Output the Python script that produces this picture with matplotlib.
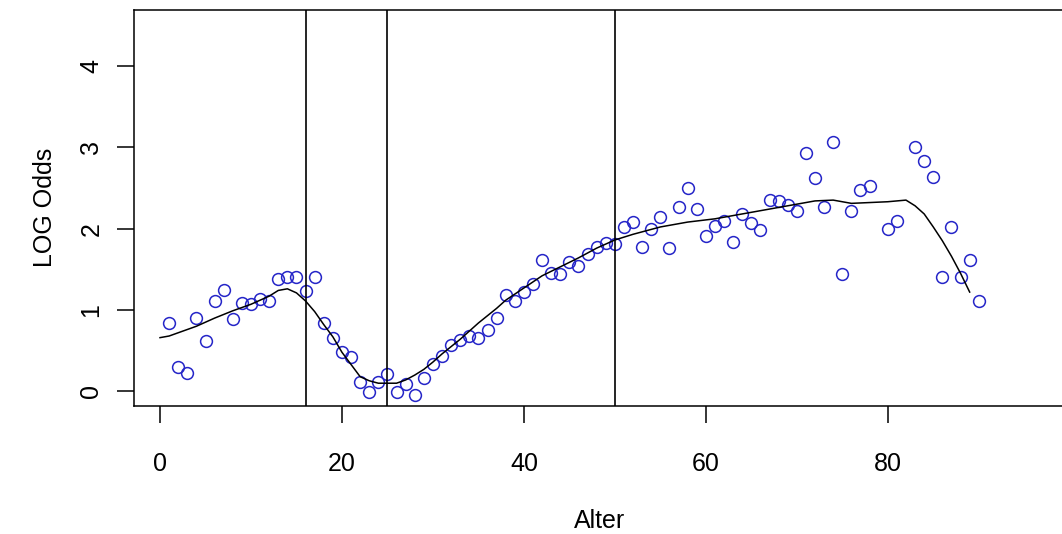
import numpy as np
import matplotlib.pyplot as plt

plt.rcParams['font.family'] = ['Liberation Sans', 'DejaVu Sans']

# observed log odds per age (79 and 82 missing)
alter = [1, 2, 3, 4, 5, 6, 7, 8, 9, 10,
         11, 12, 13, 14, 15, 16, 17, 18, 19, 20,
         21, 22, 23, 24, 25, 26, 27, 28, 29, 30,
         31, 32, 33, 34, 35, 36, 37, 38, 39, 40,
         41, 42, 43, 44, 45, 46, 47, 48, 49, 50,
         51, 52, 53, 54, 55, 56, 57, 58, 59, 60,
         61, 62, 63, 64, 65, 66, 67, 68, 69, 70,
         71, 72, 73, 74, 75, 76, 77, 78, 80,
         81, 83, 84, 85, 86, 87, 88, 89, 90]
log_odds = [0.84, 0.30, 0.22, 0.90, 0.62, 1.11, 1.25, 0.89, 1.09, 1.07,
            1.14, 1.11, 1.38, 1.40, 1.41, 1.23, 1.40, 0.84, 0.66, 0.48,
            0.42, 0.12, -0.01, 0.12, 0.21, -0.01, 0.09, -0.05, 0.17, 0.34,
            0.44, 0.57, 0.63, 0.68, 0.66, 0.75, 0.90, 1.19, 1.11, 1.22,
            1.32, 1.61, 1.46, 1.44, 1.59, 1.54, 1.69, 1.77, 1.82, 1.81,
            2.02, 2.08, 1.77, 1.99, 2.14, 1.76, 2.26, 2.50, 2.24, 1.91,
            2.03, 2.09, 1.83, 2.18, 2.07, 1.98, 2.35, 2.34, 2.29, 2.21,
            2.93, 2.62, 2.27, 3.06, 1.44, 2.21, 2.48, 2.52, 2.00,
            2.09, 3.00, 2.83, 2.64, 1.40, 2.02, 1.40, 1.61, 1.11]

# fitted smooth curve
fit_x = [0, 1, 2, 4, 6, 8, 10, 12, 13, 14, 15, 16, 17, 18, 19, 20,
         21, 22, 23, 24, 25, 26, 27, 28, 29, 30, 31, 32, 33, 34, 35,
         36, 37, 38, 40, 42, 44, 46, 48, 50, 52, 55, 58, 61, 64, 67,
         70, 72, 74, 76, 78, 80, 82, 83, 84, 85, 86, 87, 88, 89]
fit_y = [0.66, 0.68, 0.72, 0.80, 0.90, 0.99, 1.07, 1.17, 1.24, 1.26, 1.21, 1.11, 0.98, 0.82, 0.67, 0.48,
         0.33, 0.18, 0.13, 0.10, 0.10, 0.10, 0.14, 0.20, 0.27, 0.36, 0.46, 0.55, 0.64, 0.74, 0.84,
         0.93, 1.02, 1.12, 1.27, 1.42, 1.53, 1.64, 1.76, 1.86, 1.93, 2.02, 2.08, 2.12, 2.18, 2.24,
         2.30, 2.34, 2.35, 2.31, 2.32, 2.33, 2.35, 2.28, 2.18, 2.02, 1.85, 1.66, 1.45, 1.22]

knots = [16, 25, 50]

W, H = 1062, 534
fig = plt.figure(figsize=(W / 100, H / 100), dpi=100)

# plot region in pixels: left 134, top 10, bottom 406, right just off the image
left, right, top, bottom = 134, 1067, 10, 406
ax = fig.add_axes([left / W, 1 - bottom / H, (right - left) / W, (bottom - top) / H])

ax.plot(alter, log_odds, 'o', mfc='none', mec='#2525C8', ms=8.5, mew=1.1)
ax.plot(fit_x, fit_y, color='black', lw=1.1)
for k in knots:
    ax.axvline(k, color='black', lw=1.2)

ax.set_xlim(-2.86, 99.7)
ax.set_ylim(-0.18, 4.686)

ax.set_xticks([0, 20, 40, 60, 80])
ax.set_yticks([0, 1, 2, 3, 4])
ax.tick_params(axis='both', length=12, width=1.1, labelsize=18, direction='out')
ax.tick_params(axis='x', pad=21)
ax.tick_params(axis='y', pad=10)
for lab in ax.get_yticklabels():
    lab.set_rotation(90)
    lab.set_va('center')

for s in ax.spines.values():
    s.set_linewidth(1.1)

fig.text(600 / W, 1 - 521 / H, 'Alter', ha='center', va='center', fontsize=18)
fig.text(45 / W, 1 - 207 / H, 'LOG Odds', ha='center', va='center', fontsize=18, rotation=90)

fig.savefig('out.png', dpi=100)
